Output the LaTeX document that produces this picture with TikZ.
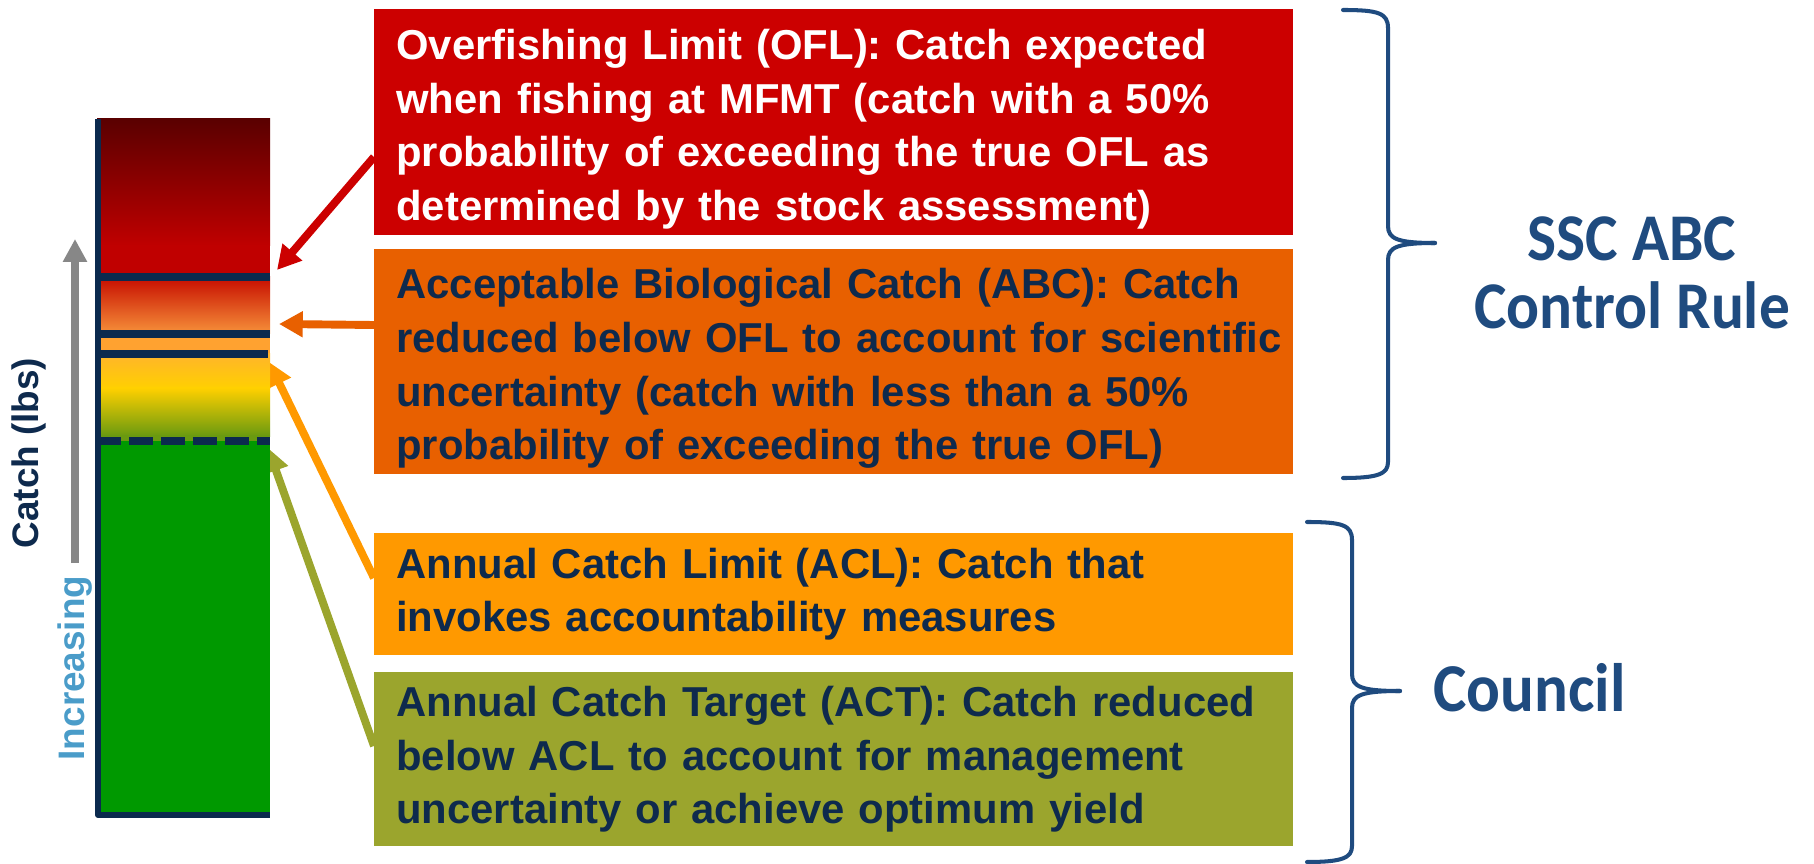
\documentclass[tikz,border=0pt]{standalone}
\usepackage{fontspec}
\setmainfont{Liberation Sans}
\newfontfamily\calfont[FakeStretch=0.92]{Carlito}
\usetikzlibrary{arrows.meta,calc}
\definecolor{oflred}{HTML}{CC0000}
\definecolor{abcorange}{HTML}{E86000}
\definecolor{aclorange}{HTML}{FF9900}
\definecolor{actolive}{HTML}{9BA52D}
\definecolor{navytext}{HTML}{0E2A4D}
\definecolor{barnavy}{HTML}{0B2A4E}
\definecolor{bracecol}{HTML}{1F4B7F}
\definecolor{incblue}{HTML}{4A9CC9}
\definecolor{arrowgray}{HTML}{878787}
\definecolor{bardark}{HTML}{5A0000}
\definecolor{barred}{HTML}{C00000}
\definecolor{barpeach}{HTML}{F7923A}
\definecolor{barapricot}{HTML}{FFA230}
\definecolor{baramber}{HTML}{FFB52A}
\definecolor{baryellow}{HTML}{FFD000}
\definecolor{barolive}{HTML}{6A9A10}
\definecolor{bargreen}{HTML}{009900}
\tikzset{
  infobox/.style={anchor=north west,inner xsep=0.44cm,inner ysep=0pt,text width=17.5cm,align=left,
    font=\fontsize{23.8}{30.5}\selectfont\bfseries,text=navytext},
  barline/.style={draw=barnavy,line width=4.2pt},
  pointer/.style={-{Triangle[length=13.5pt,width=14pt]},line width=4.5pt},
  brace/.style={draw=bracecol,line width=2.3pt,line cap=round},
  sidelabel/.style={text=bracecol,font=\calfont\fontsize{38}{39}\selectfont\bfseries,align=center},
}
\begin{document}
\begin{tikzpicture}[x=0.02cm,y=-0.02cm,line join=round]
\useasboundingbox (0,0) rectangle (1814,864);
% definition boxes
\node[infobox,fill=oflred,text=white,minimum height=4.52cm] (ofl) at (374,9)
  {\rule{0pt}{25pt}Overfishing Limit (OFL): Catch expected\\ when fishing at MFMT (catch with a 50\%\\ probability of exceeding the true OFL as\\ determined by the stock assessment)};
\node[infobox,fill=abcorange,minimum height=4.5cm] (abc) at (374,249)
  {\rule{0pt}{25pt}Acceptable Biological Catch (ABC): Catch\\ \mbox{reduced below OFL to account for scientific}\\ uncertainty (catch with less than a 50\%\\ probability of exceeding the true OFL)};
\node[infobox,fill=aclorange,minimum height=2.44cm] (acl) at (374,533)
  {Annual Catch Limit (ACL): Catch that\\ invokes accountability measures};
\node[infobox,fill=actolive,minimum height=3.48cm] (act) at (374,672)
  {Annual Catch Target (ACT): Catch reduced\\ below ACL to account for management\\ uncertainty or achieve optimum yield};
\coordinate (ofltip) at (277,270);
\coordinate (abctip) at (279,324);
\coordinate (acltip) at (269,362);
\coordinate (acttip) at (268,448);
\draw[pointer,oflred] ($(ofl.north west)+(0,148)$)--(ofltip);
\draw[pointer,abcorange] ($(abc.north west)+(0,76)$)--(abctip);
\draw[pointer,aclorange] ($(acl.north west)+(0,45)$)--(acltip);
\draw[pointer,actolive] ($(act.north west)+(0,74)$)--(acttip);
% catch bar
\shade[top color=bardark,bottom color=barred] (97,119) rectangle (270,246);
\fill[barred] (97,245) rectangle (270,277);
\shade[top color=barred!90!orange,bottom color=barpeach] (97,277) rectangle (270,334);
\fill[barapricot] (97,334) rectangle (270,354);
\shade[top color=baramber,bottom color=baryellow] (97,354) rectangle (270,389);
\shade[top color=baryellow,bottom color=barolive] (97,388) rectangle (270,436);
\fill[barolive] (97,435) rectangle (270,441);
\fill[bargreen] (97,441) rectangle (270,815);
\draw[barline] (97,277)--(270,277) (97,334)--(270,334) (97,354)--(268,354);
\draw[barline,dash pattern=on 0.48cm off 0.16cm] (97,441)--(270,441);
\draw[barnavy,line width=3.4pt] (98,119)--(98,815)--(270,815);
% axis labels
\draw[-{Triangle[length=13pt,width=13pt]},line width=4.5pt,arrowgray] (75,563)--(75,239);
\node[rotate=90,text=navytext,font=\fontsize{21}{25}\selectfont\bfseries] (catchlbl) at (29,453) {Catch (lbs)};
\node[rotate=90,text=incblue,font=\fontsize{21}{25}\selectfont\bfseries] (inclbl) at (75,668) {Increasing};
% braces
\draw[brace] (1343,10) .. controls (1378,10) and (1388,13) .. (1388,28)--(1388,226) .. controls (1388,239) and (1398,243) .. (1435,243);
\draw[brace] (1435,243) .. controls (1398,243) and (1388,247) .. (1388,260)--(1388,462) .. controls (1388,474) and (1378,478) .. (1343,478);
\draw[brace] (1307,522) .. controls (1342,522) and (1352,525) .. (1352,540)--(1352,674) .. controls (1352,687) and (1362,691) .. (1400,691);
\draw[brace] (1400,691) .. controls (1362,691) and (1352,695) .. (1352,708)--(1352,846) .. controls (1352,858) and (1342,862) .. (1307,862);
\node[sidelabel] (ssc) at (1632,273) {SSC ABC\\Control Rule};
\node[sidelabel,anchor=west,inner sep=0pt,font=\calfont\fontsize{39}{40}\selectfont\bfseries] (council) at (1433,688) {Council};
\end{tikzpicture}
\end{document}
